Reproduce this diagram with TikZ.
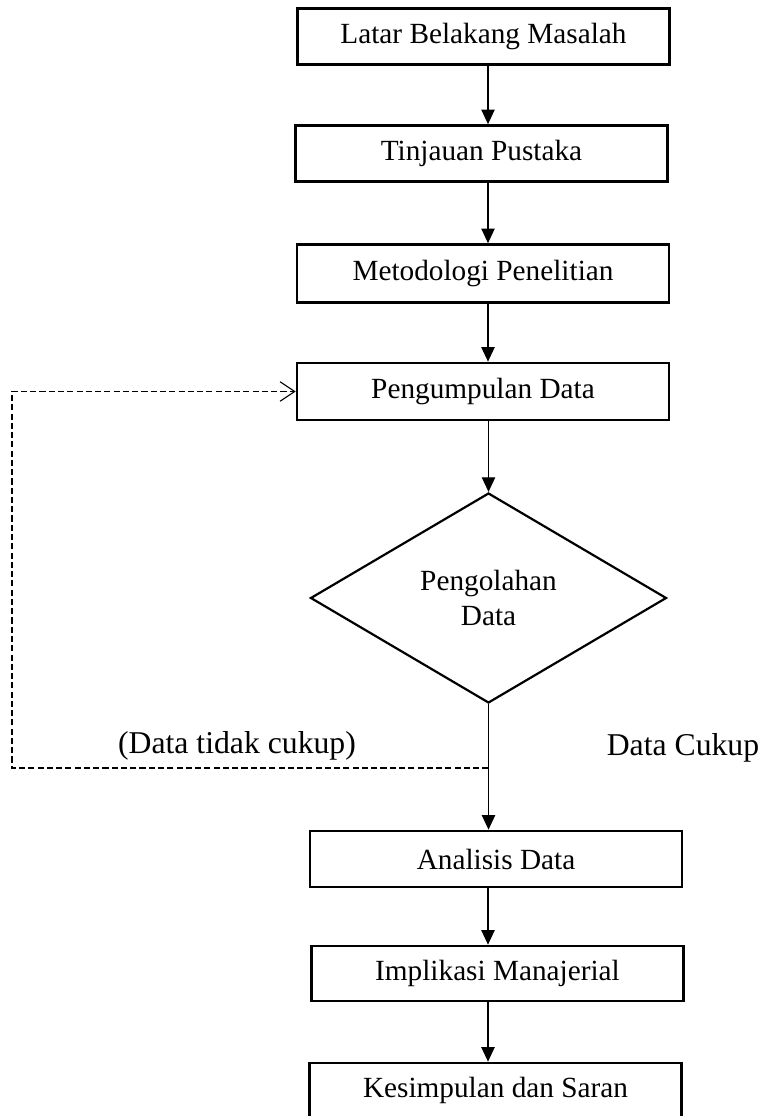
\documentclass[tikz,border=0pt]{standalone}
\usepackage{fontspec}
\setmainfont{Liberation Serif}
\usetikzlibrary{shapes.geometric, arrows.meta}

\begin{document}
\begin{tikzpicture}[x=0.41pt, y=-0.41pt,
    stagebox/.style={draw, line width=1.1pt, inner sep=0pt,
        minimum width={372*0.41pt}, minimum height={56*0.41pt},
        font=\fontsize{12}{14}\selectfont},
    decision/.style={diamond, draw, line width=0.9pt, inner sep=0pt,
        minimum width={356*0.41pt}, minimum height={210*0.41pt},
        align=center, font=\fontsize{12}{14.5}\selectfont},
    flow/.style={-{Triangle[length=6pt, width=5.5pt]}, line width=0.5pt},
    back/.style={-{Straight Barb[length=6pt, width=8pt]}, line width=0.45pt,
        dash pattern=on 2.5pt off 1.3pt},
    note/.style={font=\fontsize{13}{15}\selectfont}]
    \useasboundingbox (0, 0) rectangle (762, 1116);
    \coordinate (spine) at (488, 0);

    \node[stagebox] (latar) at (483.5, 36.5) {Latar Belakang Masalah};
    \node[stagebox] (tinjauan) at (481.5, 153.5) {Tinjauan Pustaka};
    \node[stagebox, minimum height={58*0.41pt}] (metode)
        at (483, 273.5) {Metodologi Penelitian};
    \node[stagebox, minimum height={57*0.41pt}] (kumpul)
        at (483, 391.5) {Pengumpulan Data};
    \node[decision] (olah) at (488.5, 598) {Pengolahan\\Data};
    \node[stagebox] (analisis) at (496, 859) {Analisis Data};
    \node[stagebox, minimum height={55*0.41pt}] (implikasi)
        at (497.5, 973.5) {Implikasi Manajerial};
    \node[stagebox, minimum height={55*0.41pt}] (simpulan)
        at (495.5, 1090.5) {Kesimpulan dan Saran};

    \draw[flow] (latar.south -| spine) -- (tinjauan.north -| spine);
    \draw[flow] (tinjauan.south -| spine) -- (metode.north -| spine);
    \draw[flow] (metode.south -| spine) -- (kumpul.north -| spine);
    \draw[flow] (kumpul.south -| olah.north) -- (olah.north);
    \draw[flow] (olah.south) -- (analisis.north -| olah.south);
    \draw[flow] (analisis.south -| spine) -- (implikasi.north -| spine);
    \draw[flow] (implikasi.south -| spine) -- (simpulan.north -| spine);

    % kembali ke pengumpulan data
    \coordinate (split) at (488.5, 768);
    \coordinate (loop) at (12, 768);
    \draw[back] (split) -- (loop) |- (kumpul.west);

    \node[note] (kurang) at (237, 746) {(Data tidak cukup)};
    \node[note] (cukup) at (683, 748) {Data Cukup};
\end{tikzpicture}
\end{document}
